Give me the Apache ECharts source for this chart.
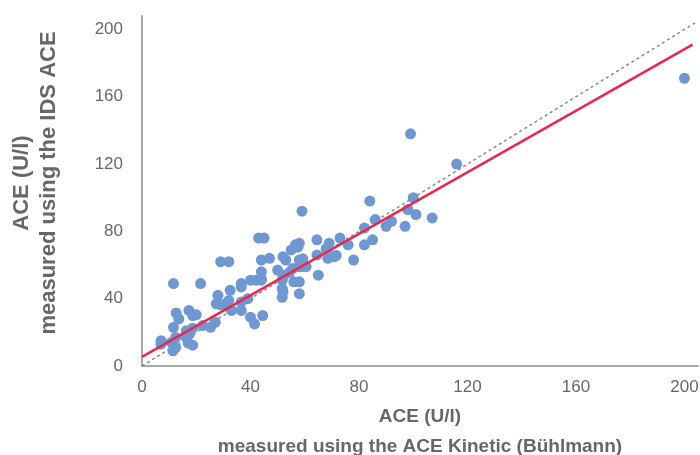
<!DOCTYPE html>
<html>
<head>
<meta charset="utf-8">
<script src="https://cdn.jsdelivr.net/npm/echarts@6/dist/echarts.min.js"></script>
<style>
  html, body { margin: 0; padding: 0; background: #fff; }
  #chart { width: 700px; height: 455px; }
</style>
</head>
<body>
<div id="chart"></div>
<script>
// ACE (U/l): ACE Kinetic (Bühlmann) on x, IDS ACE on y
const kineticValues = [
  200, 99, 116, 84, 100, 98, 101, 107, 86, 92, 82, 90, 97, 82, 85,
  59, 73, 76, 69, 68.5, 71, 68.5, 64.5, 64.5, 78, 65, 58, 56.6, 55, 58,
  60.5, 58, 55.6, 52, 53, 47, 50, 52.5, 51.7, 56, 58, 51.7, 52, 58, 44,
  44, 44, 45, 43, 44.5, 29, 32, 11.6, 21.6, 40, 42, 36.6, 36.6, 32.5, 28,
  27.4, 29, 31, 32, 33, 36.6, 36.6, 39, 40, 41.5, 12.6, 13.6, 17.3, 18.7, 20,
  11.6, 16.3, 18.7, 22.4, 25.3, 27, 17.5, 16.3, 12.4, 10.8, 7, 11.4, 12.4, 17, 18.7,
  7, 71.6, 67.9, 59.3, 59.3, 54.4, 52, 51.7, 57.5, 44
];
const idsValues = [
  171, 138, 120, 98, 100, 93, 90, 88, 87, 86, 82, 83, 83, 72, 75,
  92, 76, 72, 73, 70, 65, 64, 75, 66, 63, 54, 73, 72, 69, 63,
  59, 59, 58, 65, 63, 64, 57, 54, 51, 50, 50, 46, 44, 43, 63,
  56, 51, 76, 76, 30, 62, 62, 49, 49, 51, 51, 49, 47, 45, 42,
  37, 36.4, 37, 39, 33, 33, 38, 40, 29, 25, 31.5, 28, 33, 30, 30.4,
  23, 21, 22.5, 24, 23, 26, 19, 17, 17, 14, 15, 9, 11, 13.6, 12.4,
  13, 65.7, 69.7, 63.7, 59.1, 55.7, 53.7, 40.8, 70.6, 51.8
];
// fitted regression line and line of identity (end points)
const trendX = [0, 203];
const trendY = [5.4, 191];
const identityX = [0, 204];
const identityY = [0, 204];
const tickValues = [0, 40, 80, 120, 160, 200];

const points = kineticValues.map((x, i) => [x, idsValues[i]]);
const trendLine = trendX.map((x, i) => [x, trendY[i]]);
const identityLine = identityX.map((x, i) => [x, identityY[i]]);

const textColor = '#676767';
const axisGray = '#a8a8a8';
const fontFam = '"Liberation Sans", Arial, sans-serif';

function tickLabel(v) {
    return tickValues.indexOf(v) >= 0 ? String(v) : '';
}

const chart = echarts.init(document.getElementById('chart'));
chart.setOption({
    animation: false,
    grid: { left: 142, right: 2, top: 16, bottom: 89, outerBoundsMode: 'none', containLabel: false },
    xAxis: {
        type: 'value', min: 0, max: 205, interval: 40,
        name: 'ACE (U/l)\nmeasured using the ACE Kinetic (Bühlmann)',
        nameLocation: 'middle', nameGap: 36,
        nameTextStyle: { color: textColor, fontSize: 19, fontWeight: 'bold', fontFamily: fontFam, lineHeight: 30 },
        axisLine: { show: true, lineStyle: { color: axisGray, width: 2 } },
        axisTick: { show: false },
        splitLine: { show: false },
        axisLabel: { color: textColor, fontSize: 17, fontFamily: fontFam, margin: 13, formatter: tickLabel }
    },
    yAxis: {
        type: 'value', min: 0, max: 208, interval: 40,
        name: 'ACE (U/l)\nmeasured using the IDS ACE',
        nameLocation: 'middle', nameGap: 80,
        nameTextStyle: {
            color: textColor, fontSize: 22, fontWeight: 'bold', fontFamily: fontFam,
            lineHeight: 27, padding: [0, 0, 0, 16]
        },
        axisLine: { show: true, lineStyle: { color: axisGray, width: 2 } },
        axisTick: { show: false },
        splitLine: { show: false },
        axisLabel: { color: textColor, fontSize: 17, fontFamily: fontFam, margin: 19, formatter: tickLabel }
    },
    series: [
        {
            type: 'line', data: identityLine, symbol: 'none', silent: true,
            lineStyle: { color: '#8a8a8a', width: 1.5, type: [3, 3] },
            z: 1
        },
        {
            type: 'scatter', data: points, symbolSize: 11,
            itemStyle: { color: '#6f98d3', opacity: 1 },
            z: 2
        },
        {
            type: 'line', data: trendLine, symbol: 'none', silent: true,
            lineStyle: { color: '#e8284f', width: 2.5 },
            z: 3
        }
    ]
});
</script>
</body>
</html>
